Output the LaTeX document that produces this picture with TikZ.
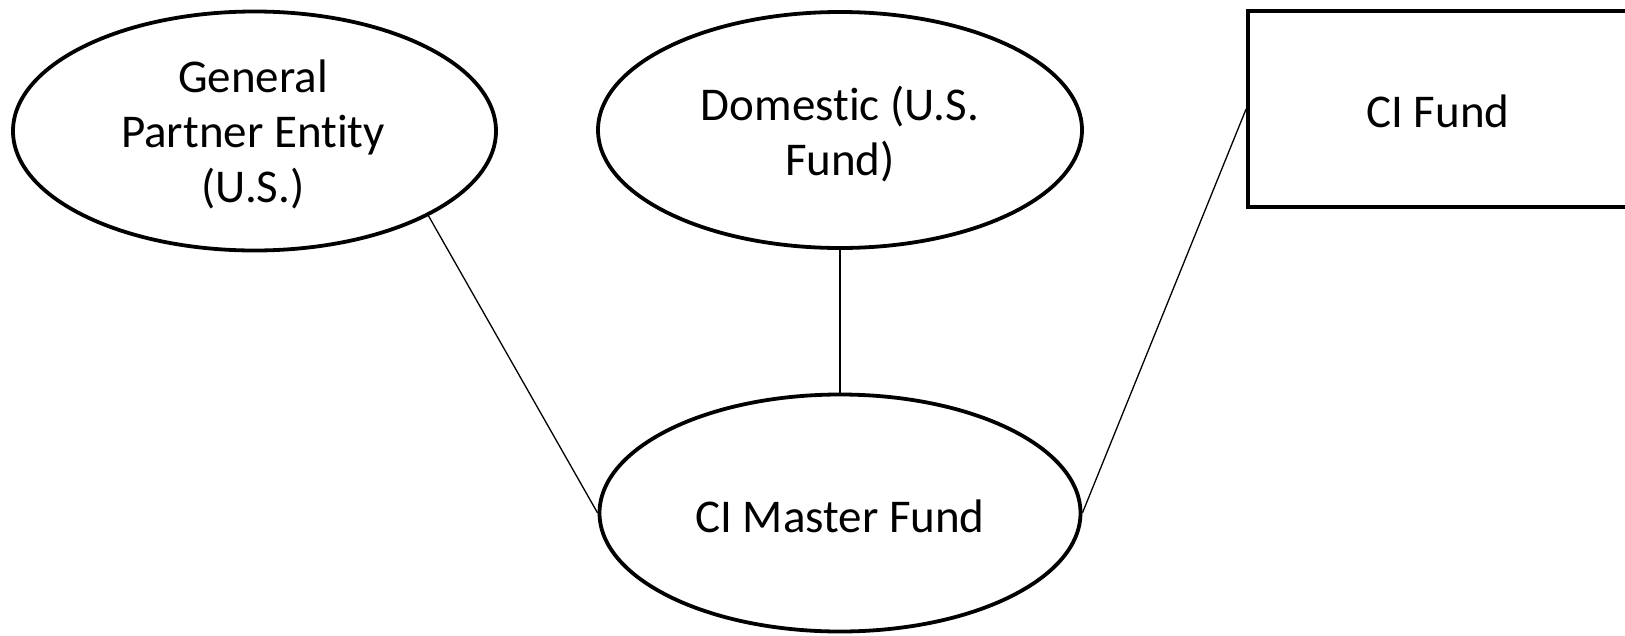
\documentclass[tikz,border=0pt]{standalone}
\usepackage{fontspec}
\setmainfont{Carlito}[Ligatures={NoCommon,NoDiscretionary,NoContextual}]
\usetikzlibrary{shapes.geometric}
\begin{document}
\begin{tikzpicture}[x=1pt,y=-1pt,
  ent/.style={draw=black,line width=3.8pt,ellipse,inner sep=0pt,fill=white},
  boxnode/.style={draw=black,line width=3.8pt,rectangle,inner sep=0pt},
  txt/.style={align=center,inner sep=0pt,font=\fontsize{47}{55}\selectfont},
  link/.style={draw=black,line width=1.3pt}]
\useasboundingbox (0,0) rectangle (1625,635);
\fill[white] (0,0) rectangle (1625,635);
\node[ent,minimum width=483pt,minimum height=239pt] (gp) at (254.5,131) {};
\node[txt] (gpt) at (253,134) {General\\Partner Entity\\(U.S.)};
\node[ent,minimum width=484pt,minimum height=236pt] (dom) at (840,130) {};
\node[txt] (domt) at (840,134) {Domestic (U.S.\\Fund)};
\node[boxnode,minimum width=380pt,minimum height=196pt] (ci) at (1438,109) {};
\node[txt] (cit) at (1438,111) {CI Fund};
\node[ent,minimum width=481pt,minimum height=237pt] (master) at (840,513) {};
\node[txt] (mastert) at (840,516) {CI Master Fund};
\draw[link] (gp.-26.4) -- (master.west);
\draw[link,line width=2.4pt] (dom.south) -- (master.north);
\draw[link] (ci.west) -- (master.east);
\end{tikzpicture}
\end{document}
